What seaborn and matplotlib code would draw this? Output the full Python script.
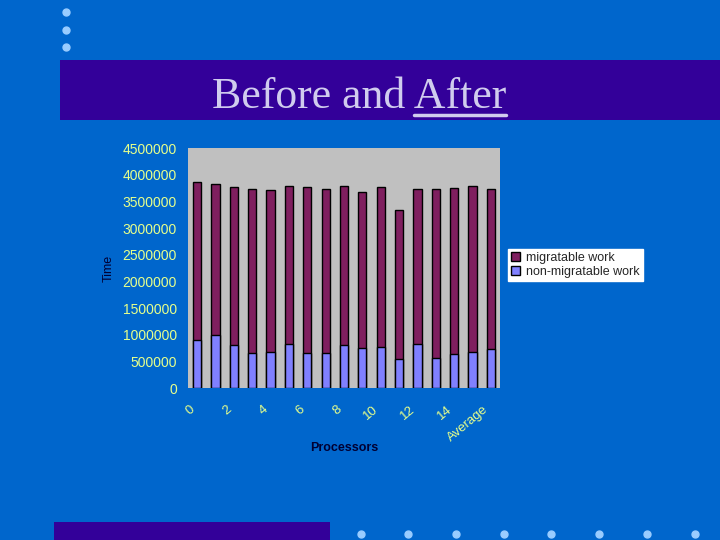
import matplotlib
matplotlib.use("Agg")
import matplotlib.pyplot as plt
import matplotlib.transforms as mtransforms
from matplotlib.patches import Rectangle, Patch
from matplotlib.lines import Line2D
import seaborn as sns
import pandas as pd

# ---- data ----
processors = ["0", "1", "2", "3", "4", "5", "6", "7", "8", "9", "10",
              "11", "12", "13", "14", "15", "Average"]
total_work = [3855000, 3818000, 3775000, 3737000, 3712000, 3793000, 3775000,
              3737000, 3793000, 3681000, 3775000, 3338000, 3731000, 3737000,
              3756000, 3793000, 3737000]
non_migratable = [893000, 994000, 806000, 649000, 668000, 818000, 649000,
                  649000, 806000, 750000, 761000, 550000, 825000, 555000,
                  637000, 668000, 731000]
migratable = [t - n for t, n in zip(total_work, non_migratable)]
shown_labels = ["0", "2", "4", "6", "8", "10", "12", "14", "Average"]
y_ticks = [0, 500000, 1000000, 1500000, 2000000, 2500000, 3000000,
           3500000, 4000000, 4500000]

df = pd.DataFrame({"Processors": processors,
                   "migratable": migratable,
                   "non_migratable": non_migratable})
df["stack_top"] = df["migratable"] + df["non_migratable"]

BG = "#0066CC"
BAND = "#330099"
MAROON = "#7F1F5F"
LILAC = "#8080FF"
TICKCOL = "#E6FF8C"
DOT = "#99CCFF"
TITLECOL = "#D0CCEE"

sns.set_theme(style="white")
plt.rcParams["font.family"] = ["Liberation Sans", "DejaVu Sans"]

fig = plt.figure(figsize=(7.2, 5.4), dpi=100, facecolor=BG)
W, H = 720.0, 540.0

def fx(px):
    return px / W

def fy(py):
    return 1 - py / H

# decorative bands
fig.patches.append(Rectangle((fx(60), fy(120)), 1 - fx(60), (120 - 60) / H,
                             transform=fig.transFigure, facecolor=BAND,
                             edgecolor="none", zorder=0))
fig.patches.append(Rectangle((fx(54), 0), fx(330) - fx(54), 18 / H,
                             transform=fig.transFigure, facecolor=BAND,
                             edgecolor="none", zorder=0))
# bullets
for yy in [12, 30, 47]:
    fig.lines.append(Line2D([fx(66)], [fy(yy)], transform=fig.transFigure,
                            marker="o", markersize=5, color=DOT, linestyle=""))
for xx in [361, 408, 456, 504, 551, 599, 647, 695]:
    fig.lines.append(Line2D([fx(xx)], [fy(534)], transform=fig.transFigure,
                            marker="o", markersize=5, color=DOT, linestyle=""))

# title with underlined "After"
title_kw = dict(fontsize=31.5, color=TITLECOL,
                family=["Liberation Serif", "DejaVu Serif"])
t = fig.text(fx(212), fy(108), "Before and After", ha="left",
             va="baseline", **title_kw)
fig.canvas.draw()
r = fig.canvas.get_renderer()
bb = t.get_window_extent(r)
tmp = fig.text(0, 0, "After", **title_kw)
wa = tmp.get_window_extent(r).width
tmp.remove()
x0f = (bb.x1 - wa) / W
x1f = bb.x1 / W
fig.lines.append(Line2D([x0f, x1f], [fy(115), fy(115)],
                        transform=fig.transFigure, color=TITLECOL,
                        linewidth=2.5))

# axes
ax = fig.add_axes([fx(188), fy(388), fx(500) - fx(188), (388 - 148) / H])
ax.set_facecolor("#C0C0C0")

sns.barplot(data=df, x="Processors", y="stack_top", color=MAROON,
            saturation=1, width=0.45, edgecolor="black", linewidth=1,
            ax=ax, zorder=2)
sns.barplot(data=df, x="Processors", y="non_migratable", color=LILAC,
            saturation=1, width=0.45, edgecolor="black", linewidth=1,
            ax=ax, zorder=3)

ax.set_xlim(-0.5, len(processors) - 0.5)
ax.set_ylim(0, 4500000)
ax.set_yticks(y_ticks)
ax.set_yticklabels([str(v) for v in y_ticks])
pos = [processors.index(s) for s in shown_labels]
ax.set_xticks(pos)
ax.set_xticklabels(shown_labels, rotation=40, ha="right", va="top",
                   rotation_mode="anchor")
ax.tick_params(axis="y", length=0, pad=8, labelsize=10, labelcolor=TICKCOL)
ax.tick_params(axis="x", length=0, pad=11, labelsize=9.5, labelcolor=TICKCOL)
shift = mtransforms.ScaledTranslation(-0.08, 0, fig.dpi_scale_trans)
for lab in ax.get_xticklabels():
    lab.set_transform(lab.get_transform() + shift)
for s in ax.spines.values():
    s.set_visible(False)

ax.set_ylabel("Time", fontsize=9, color="#000033")
ax.yaxis.set_label_coords(-0.235, 0.5)
ax.set_xlabel("Processors", fontsize=9, fontweight="bold", color="#000033")
ax.xaxis.set_label_coords(0.5, -0.225)

handles = [Patch(facecolor=MAROON, edgecolor="black", label="migratable work"),
           Patch(facecolor=LILAC, edgecolor="black", label="non-migratable work")]
leg = ax.legend(handles=handles, loc="lower left",
                bbox_to_anchor=(fx(508), fy(281)), bbox_transform=fig.transFigure,
                borderaxespad=0, frameon=True, fancybox=False, fontsize=9,
                handlelength=0.7, handleheight=0.7, handletextpad=0.5,
                labelspacing=0.15, borderpad=0.25)
leg.get_frame().set_facecolor("white")
leg.get_frame().set_edgecolor("white")
leg.get_frame().set_alpha(1)

fig.savefig("out.png", dpi=100, facecolor=BG)
